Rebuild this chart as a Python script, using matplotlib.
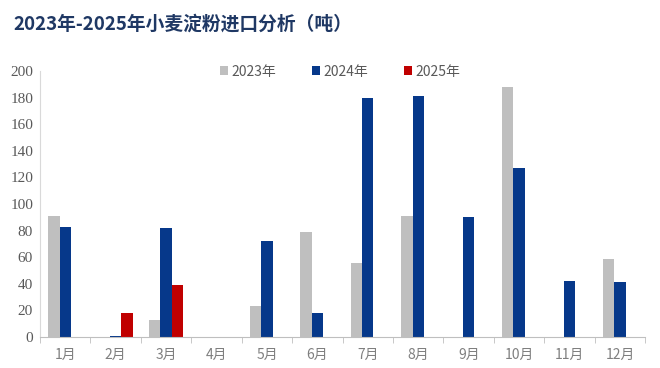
import matplotlib
matplotlib.use("Agg")
import matplotlib.pyplot as plt
import numpy as np

plt.rcParams['font.family'] = ['Noto Sans CJK SC', 'DejaVu Sans']

months = ['1月', '2月', '3月', '4月', '5月', '6月', '7月', '8月', '9月', '10月', '11月', '12月']
s2023 = [91, 0, 13, 0, 23, 79, 56, 91, 0, 188, 0, 59]
s2024 = [83, 1, 82, 0, 72, 18, 180, 181, 90, 127, 42, 41]
s2025 = [0, 18, 39, 0, 0, 0, 0, 0, 0, 0, 0, 0]
series_names = ['2023年', '2024年', '2025年']
yticks = list(range(0, 201, 20))
colors = ['#bfbfbf', '#06388a', '#c00000']

fig = plt.figure(figsize=(6.6, 3.68), dpi=100)
ax = fig.add_axes([0.0606, 0.0842, 0.917, 0.723])

x = np.arange(len(months))
w = 0.225
for i, (vals, name, c) in enumerate(zip([s2023, s2024, s2025], series_names, colors)):
    ax.bar(x + (i - 1) * w, vals, width=w, color=c, label=name, zorder=2)

ax.set_xlim(-0.5, 11.5)
ax.set_ylim(0, 200)
ax.set_yticks(yticks)
ax.set_yticklabels([str(v) for v in yticks], fontfamily='Liberation Serif')
ax.set_xticks(x)
ax.set_xticklabels(months)
ax.set_xticks(np.arange(-0.5, 12, 1), minor=True)

for s in ['top', 'right']:
    ax.spines[s].set_visible(False)
ax.spines['left'].set_color('#d9d9d9')
ax.spines['bottom'].set_color('#bfbfbf')
ax.tick_params(axis='y', length=0, labelsize=11, labelcolor='#595959', pad=5)
ax.tick_params(axis='x', which='major', length=0, labelsize=10, labelcolor='#7f7f7f', pad=8)
ax.tick_params(axis='x', which='minor', length=4, color='#bfbfbf')

fig.text(0.021, 0.935, '2023年-2025年小麦淀粉进口分析（吨）', fontsize=13.5,
         fontweight='bold', color='#1f3864', ha='left', va='center')

leg = fig.legend(loc='center', bbox_to_anchor=(0.515, 0.805), ncol=3, frameon=False,
                 handlelength=0.6, handleheight=0.6, handletextpad=0.2,
                 columnspacing=2.6, fontsize=10)
for t in leg.get_texts():
    t.set_color('#595959')

fig.savefig('out.png', dpi=100)
